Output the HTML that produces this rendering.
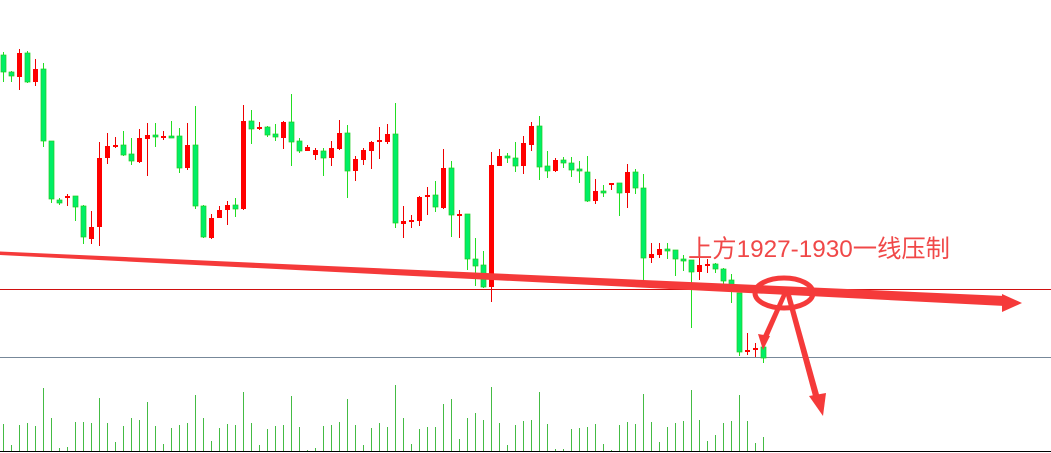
<!DOCTYPE html>
<html><head><meta charset="utf-8"><style>
html,body{margin:0;padding:0;background:#fff;width:1051px;height:453px;overflow:hidden}
svg{display:block}
</style></head><body>
<svg id="s" width="1051" height="453" viewBox="0 0 1051 453" xmlns="http://www.w3.org/2000/svg">
<line x1="0" y1="289.5" x2="1051" y2="289.5" stroke="#d01010" stroke-width="1"/>
<line x1="0" y1="357.5" x2="1051" y2="357.5" stroke="#778899" stroke-width="1"/>
<line x1="0" y1="451.5" x2="1051" y2="451.5" stroke="#000" stroke-width="1"/>
<g id="c"></g>
<g fill="#f53a3a" stroke="none">
<polygon points="0,251.5 1005,296 1005,306 0,255"/>
<polygon points="1002,294 1022,303 1002,312"/>
<polygon points="783,292 788,292 767,340 762,338"/>
<polygon points="758,334 770,336 763,350"/>
<polygon points="785,292 790,291 820,398 814,400"/>
<polygon points="809,396 826,393 823,416"/>
</g>
<ellipse cx="784" cy="293" rx="29" ry="15" fill="none" stroke="#f53a3a" stroke-width="5"/>
<text x="688" y="257" font-family="'Liberation Sans','Noto Sans CJK SC',sans-serif" font-size="24.3" fill="#f04848">上方1927-1930一线压制</text>
</svg>
<script>
var C=[[55,72,52,82,1],[72,76,71,82,1],[53,77,49,90,0],[53,82,51,83,1],[69,82,59,86,0],[69,141,63,147,1],[141,199,141,203,1],[200,203,198,205,1],[196,197,194,206,0],[196,207,196,221,1],[206,237,205,244,1],[227,239,211,244,0],[158,227,142,246,0],[146,158,133,164,0],[145,147,137,148,0],[145,155,131,156,1],[154,161,138,165,1],[138,162,129,163,0],[135,139,123,176,0],[135,137,123,147,1],[136,138,131,140,0],[136,137,121,138,1],[136,168,128,173,1],[145,168,123,170,0],[145,206,106,209,1],[206,237,205,238,1],[218,238,214,239,0],[210,218,206,218,0],[205,210,201,225,0],[205,209,198,217,1],[121,209,105,210,0],[121,129,110,144,1],[127,129,122,130,0],[127,135,126,137,1],[134,137,124,141,1],[122,138,121,149,0],[122,142,94,166,1],[141,151,138,153,1],[147,151,145,151,0],[150,155,148,160,0],[151,158,148,176,1],[148,158,141,166,0],[133,149,120,150,0],[133,171,125,198,1],[159,171,156,181,0],[150,160,148,165,0],[142,151,141,169,0],[140,142,127,159,0],[134,142,124,144,0],[134,223,103,228,1],[221,224,206,238,0],[220,222,215,228,0],[197,221,196,226,0],[195,197,187,215,0],[195,207,181,212,1],[168,208,149,209,0],[168,215,161,237,1],[214,215,210,238,0],[214,259,214,270,1],[259,266,238,286,1],[265,287,251,288,1],[165,287,152,302,0],[156,166,149,166,0],[156,158,153,163,1],[158,166,142,172,1],[143,166,136,174,0],[126,145,122,151,0],[126,167,116,180,1],[166,171,151,178,1],[160,171,158,172,0],[160,163,157,168,1],[163,170,157,177,1],[169,171,161,183,1],[172,201,156,202,1],[191,201,179,204,0],[191,193,185,197,1],[183,184,183,190,0],[183,193,183,216,1],[172,193,164,208,0],[172,188,169,194,1],[188,258,174,282,1],[254,258,243,263,0],[249,255,243,258,0],[249,250,243,259,1],[250,259,250,276,1],[259,261,255,271,1],[260,272,260,328,1],[265,272,247,280,0],[264,265,259,273,0],[264,269,263,273,1],[269,281,268,286,1],[280,287,274,303,1],[293,352,293,356,1],[350,352,333,355,0],[348,350,343,357,0],[347,358,347,363,1]];
var V=[147,210,150,144,153,39,129,219,216,141,141,144,69,144,201,153,129,135,81,153,207,159,150,144,60,129,198,159,147,150,51,144,210,162,153,150,63,156,225,219,153,150,141,72,150,210,159,144,156,30,129,207,162,156,156,87,72,192,129,114,135,36,144,210,150,138,135,51,147,222,222,162,159,156,147,207,225,150,141,147,57,141,201,156,144,138,45,135,198,180,144,138,60,138,204,186];
var h='';
for(var i=0;i<C.length;i++){var c=C[i],x=3.5+8*i,col=c[4]?'#00ee66':'#ff0000',wc=c[4]?'#22dd22':'#ee0000';
h+='<line x1="'+x+'" x2="'+x+'" y1="'+c[2]+'" y2="'+c[3]+'" stroke="'+wc+'" stroke-width="1"/>';
var t=c[0],b=Math.max(c[1],c[0]+2);
h+='<rect x="'+(x-2.5)+'" y="'+t+'" width="5" height="'+(b-t)+'" fill="'+col+'"'+(c[4]?' stroke="#22cc22" stroke-width="0.7"':'')+'/>';
var vy=375+V[i]/3;h+='<line x1="'+x+'" x2="'+x+'" y1="'+vy+'" y2="451" stroke="#44bb44" stroke-width="1"/>';}
document.getElementById('c').innerHTML=h;
</script>
</body></html>
